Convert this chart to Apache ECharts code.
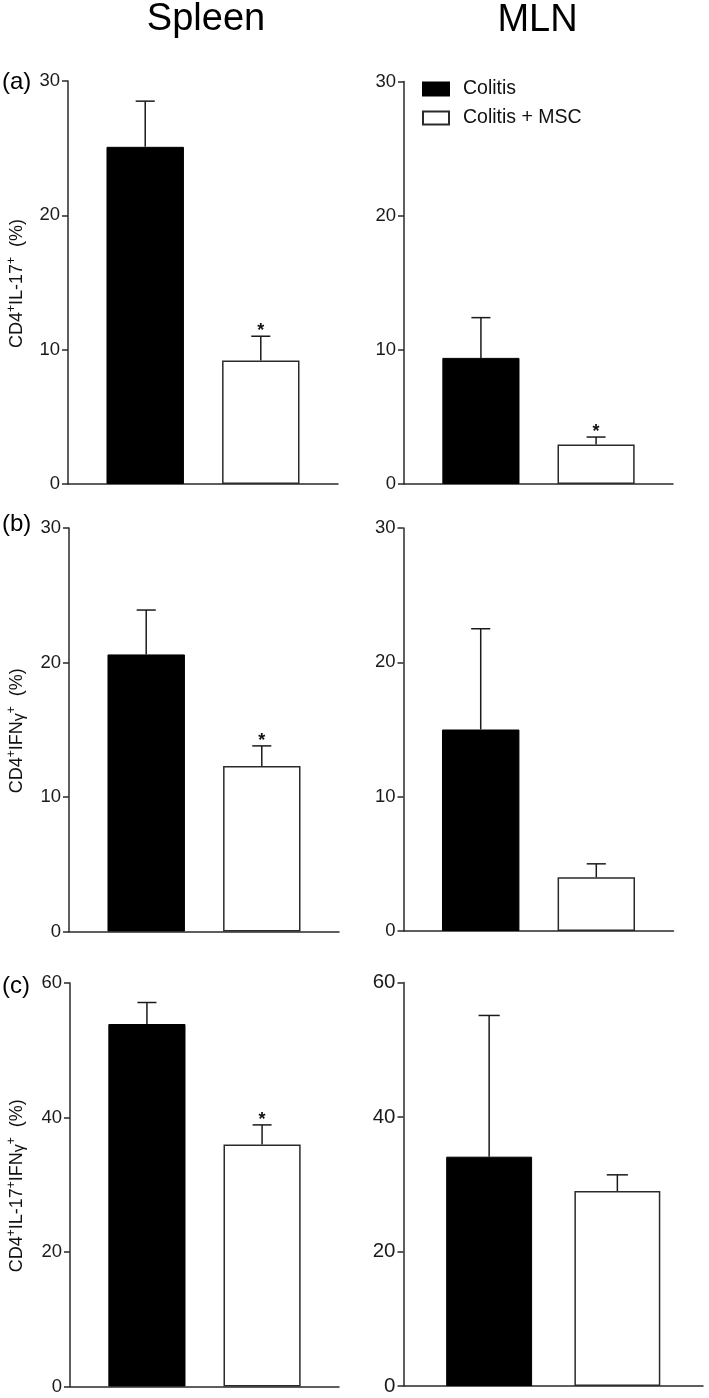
<!DOCTYPE html>
<html>
<head>
<meta charset="utf-8">
<script src="https://cdn.jsdelivr.net/npm/echarts@6/dist/echarts.min.js"></script>
<style>
html,body{margin:0;padding:0;background:#fff;}
#c{width:709px;height:1398px;}
</style>
</head>
<body>
<div id="c"></div>
<script>
// ---------------- data ----------------
const groups = ['Colitis', 'Colitis + MSC'];

const spleenIL17Mean  = [25.1, 9.2];
const spleenIL17Upper = [28.5, 11.0];
const spleenIL17Sig   = [0, 1];

const mlnIL17Mean  = [9.4, 2.95];
const mlnIL17Upper = [12.4, 3.5];
const mlnIL17Sig   = [0, 1];

const spleenIFNgMean  = [20.6, 12.3];
const spleenIFNgUpper = [23.9, 13.8];
const spleenIFNgSig   = [0, 1];

const mlnIFNgMean  = [15.0, 4.0];
const mlnIFNgUpper = [22.5, 5.0];
const mlnIFNgSig   = [0, 0];

const spleenDPMean  = [53.9, 36.0];
const spleenDPUpper = [57.1, 38.9];
const spleenDPSig   = [0, 1];

const mlnDPMean  = [34.1, 29.0];
const mlnDPUpper = [55.1, 31.4];
const mlnDPSig   = [0, 0];

const yMaxByRow      = [30, 30, 60];
const yIntervalByRow = [10, 10, 20];

const columnTitles = ['Spleen', 'MLN'];
const panelLetters = ['(a)', '(b)', '(c)'];
const yNames = [
  '{n|CD4}{sup|+}{n|IL-17}{sup|+}{n|  (%)}',
  '{n|CD4}{sup|+}{n|IFN}{g|γ}{sup|+}{n|  (%)}',
  '{n|CD4}{sup|+}{n|IL-17}{sup|+}{n|IFN}{g|γ}{sup|+}{n|  (%)}'
];

// ---------------- layout ----------------
const FONT = '"Liberation Sans", Arial, Helvetica, sans-serif';
const panels = [
  {row:0, col:0, mean:spleenIL17Mean, upper:spleenIL17Upper, sig:spleenIL17Sig, left:68,    top:81,    w:270,   h:403,   fs:18.5},
  {row:0, col:1, mean:mlnIL17Mean,    upper:mlnIL17Upper,    sig:mlnIL17Sig,    left:404,   top:81.5,  w:269,   h:402.5, fs:18.5},
  {row:1, col:0, mean:spleenIFNgMean, upper:spleenIFNgUpper, sig:spleenIFNgSig, left:69,    top:528,   w:270,   h:403.5, fs:18.5},
  {row:1, col:1, mean:mlnIFNgMean,    upper:mlnIFNgUpper,    sig:mlnIFNgSig,    left:403.5, top:528,   w:270,   h:403,   fs:18.5},
  {row:2, col:0, mean:spleenDPMean,   upper:spleenDPUpper,   sig:spleenDPSig,   left:70,    top:983,   w:269,   h:403.5, fs:18.5},
  {row:2, col:1, mean:mlnDPMean,      upper:mlnDPUpper,      sig:mlnDPSig,      left:403.5, top:982.5, w:299.5, h:403.5, fs:20.5}
];
const X_MIN = -0.668, X_MAX = 1.668;
const BAR_FRAC = 0.67, CAP_UNITS = 0.165;

const grid = [], xAxis = [], yAxis = [], series = [];
const axisLineStyle = {color:'#2a2a2a', width:1.5};
const NAME_FS = 18;
const nameRich = {
  n:{font: NAME_FS + 'px ' + FONT, fill:'#111', lineHeight:22},
  sup:{font:'12px ' + FONT, fill:'#111', verticalAlign:'top', lineHeight:22},
  g:{font:'16px ' + FONT, fill:'#111', verticalAlign:'bottom', lineHeight:22}
};

const graphic = [
  {type:'text', x:206, y:20, style:{text:columnTitles[0], font:'38px ' + FONT, fill:'#000', align:'center', verticalAlign:'middle'}},
  {type:'text', x:537.5, y:21, style:{text:columnTitles[1], font:'38px ' + FONT, fill:'#000', align:'center', verticalAlign:'middle'}},
  {type:'text', x:2, y:82,  style:{text:panelLetters[0], font:'24px ' + FONT, fill:'#000', align:'left', verticalAlign:'middle'}},
  {type:'text', x:2, y:524, style:{text:panelLetters[1], font:'24px ' + FONT, fill:'#000', align:'left', verticalAlign:'middle'}},
  {type:'text', x:2, y:986, style:{text:panelLetters[2], font:'24px ' + FONT, fill:'#000', align:'left', verticalAlign:'middle'}}
];

panels.forEach((p, i) => {
  grid.push({left:p.left, top:p.top, width:p.w, height:p.h, containLabel:false});
  xAxis.push({
    type:'value', gridIndex:i, min:X_MIN, max:X_MAX,
    axisLabel:{show:false}, axisTick:{show:false}, splitLine:{show:false},
    axisLine:{show:true, lineStyle:axisLineStyle}
  });
  yAxis.push({
    type:'value', gridIndex:i, min:0, max:yMaxByRow[p.row], interval:yIntervalByRow[p.row],
    axisLine:{show:true, onZero:false, lineStyle:axisLineStyle},
    axisTick:{show:true, length:6, lineStyle:axisLineStyle},
    axisLabel:{fontSize:p.fs, color:'#1a1a1a', fontFamily:FONT, margin:8},
    splitLine:{show:false}
  });
  if (p.col === 0) {
    graphic.push({
      type:'text', x:17, y:p.top + p.h / 2 + 1, rotation:Math.PI / 2,
      style:{text:yNames[p.row], rich:nameRich, font:NAME_FS + 'px ' + FONT, fill:'#111', align:'center', verticalAlign:'middle'}
    });
  }
  const barPx = p.w / (X_MAX - X_MIN) * BAR_FRAC;
  groups.forEach((g, k) => {
    series.push({
      type:'bar', name:g, xAxisIndex:i, yAxisIndex:i,
      data:[[k, p.mean[k]]], barWidth:barPx, barGap:'-100%',
      itemStyle: k === 0
        ? {color:'#000', borderColor:'#000', borderWidth:1}
        : {color:'#fff', borderColor:'#2a2a2a', borderWidth:1.5},
      emphasis:{disabled:true}, silent:true
    });
  });
  series.push({
    type:'custom', xAxisIndex:i, yAxisIndex:i, silent:true, z:5,
    encode:{x:0, y:2},
    data: groups.map((g, k) => [k, p.mean[k], p.upper[k], p.sig[k]]),
    renderItem: (params, api) => {
      const x = api.value(0), m = api.value(1), u = api.value(2), s = api.value(3);
      const p0 = api.coord([x, m]), p1 = api.coord([x, u]);
      const half = api.size([CAP_UNITS, 0])[0] / 2;
      const st = {stroke:'#1a1a1a', lineWidth:1.5};
      const children = [
        {type:'line', shape:{x1:p0[0], y1:p0[1], x2:p1[0], y2:p1[1]}, style:st},
        {type:'line', shape:{x1:p1[0]-half, y1:p1[1], x2:p1[0]+half, y2:p1[1]}, style:st}
      ];
      if (s) {
        children.push({type:'text', x:p1[0], y:p1[1]+4,
          style:{text:'*', font:'bold 18px ' + FONT, fill:'#111', align:'center', verticalAlign:'bottom'}});
      }
      return {type:'group', children};
    }
  });
});

const chart = echarts.init(document.getElementById('c'), null, {renderer:'canvas'});
chart.setOption({
  animation:false,
  backgroundColor:'#fff',
  grid, xAxis, yAxis, series, graphic,
  legend:{
    data:groups, orient:'vertical', left:422, top:79, padding:0,
    itemWidth:26, itemHeight:13, itemGap:9, icon:'rect',
    textStyle:{fontSize:19.5, fontFamily:FONT, color:'#111', padding:[0,0,0,9]},
    selectedMode:false
  }
});
</script>
</body>
</html>
